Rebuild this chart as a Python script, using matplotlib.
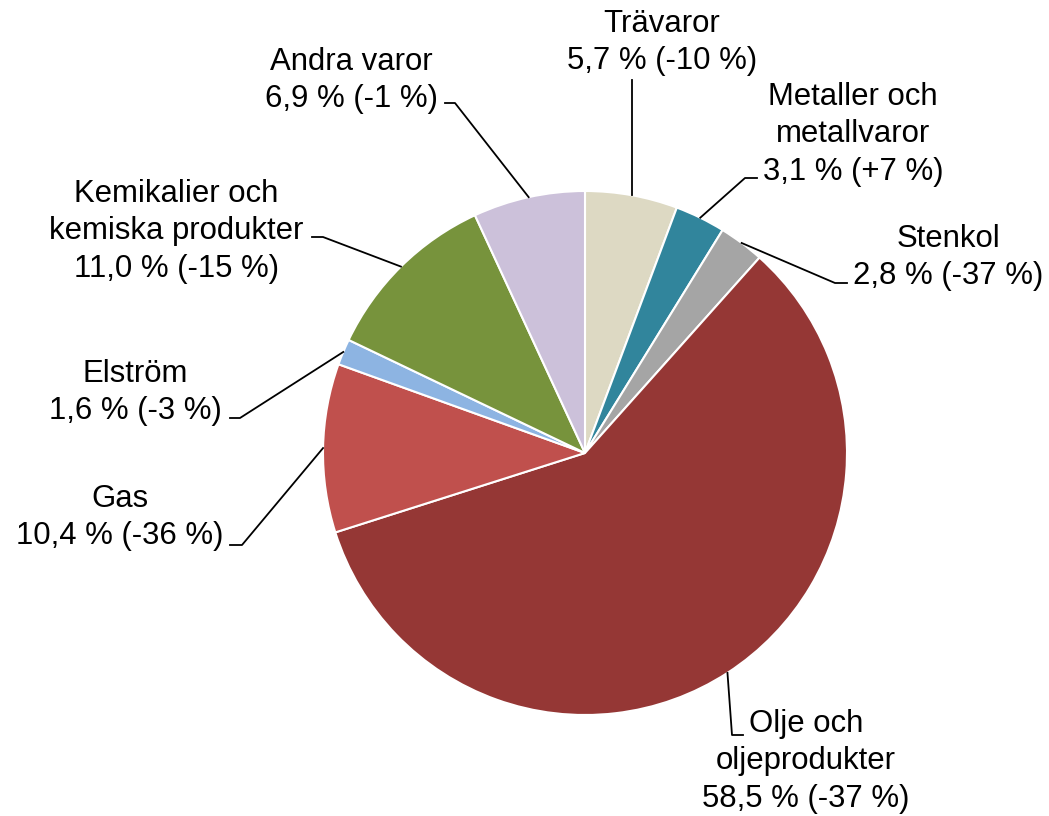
import matplotlib
matplotlib.use("Agg")
import matplotlib.pyplot as plt
import numpy as np

plt.rcParams['font.family'] = ['Liberation Sans', 'DejaVu Sans']

# andel av import (%) och förändring jämfört med året innan
names = ["Trävaror", "Metaller och\nmetallvaror", "Stenkol", "Olje och\noljeprodukter",
         "Gas", "Elström", "Kemikalier och\nkemiska produkter", "Andra varor"]
shares = [5.7, 3.1, 2.8, 58.5, 10.4, 1.6, 11.0, 6.9]
changes = ["-10", "+7", "-37", "-37", "-36", "-3", "-15", "-1"]
colors = ["#DDD9C3", "#31859C", "#A5A5A5", "#953735",
          "#C0504D", "#8DB4E2", "#77933C", "#CCC1DA"]

W, H = 1049, 816
cx, cy, r = 585, H - 453, 262

# label centre (x, y of first line) and elbow of leader (start, end of short horizontal)
label_pos = [(662, 22), (853, 95), (948, 237), (806, 722),
             (120, 497), (135, 372), (176, 192), (351, 60)]
elbows = [None, ((757, 178), (745, 178)), ((847, 283), (835, 283)),
          ((743, 735), (732, 735)), ((230, 545), (242, 545)),
          ((230, 418), (240, 418)), ((312, 237), (323, 237)),
          ((445, 103), (455, 103))]

fig = plt.figure(figsize=(W / 100, H / 100), dpi=100)
ax = fig.add_axes([0, 0, 1, 1])

wedges, _ = ax.pie(shares, colors=colors, startangle=90, counterclock=False,
                   center=(cx, cy), radius=r, frame=True,
                   wedgeprops=dict(edgecolor="white", linewidth=1.5))
ax.set_xlim(0, W)
ax.set_ylim(0, H)
ax.set_aspect("equal")
ax.axis("off")

for w, name, s, ch, (lx, ly), el in zip(wedges, names, shares, changes, label_pos, elbows):
    txt = "%s\n%s %% (%s %%)" % (name, ("%.1f" % s).replace(".", ","), ch)
    ax.text(lx, H - ly + 13, txt, ha="center", va="top", fontsize=22.4,
            linespacing=1.32, multialignment="center")
    mid = np.deg2rad((w.theta1 + w.theta2) / 2)
    px, py = cx + r * np.cos(mid), cy + r * np.sin(mid)
    if el is None:
        ax.plot([px, px], [py, H - 80], color="black", lw=1.3)
    else:
        (x0, y0), (x1, y1) = el
        ax.plot([x0, x1, px], [H - y0, H - y1, py], color="black", lw=1.3)

fig.savefig("out.png", dpi=100)
